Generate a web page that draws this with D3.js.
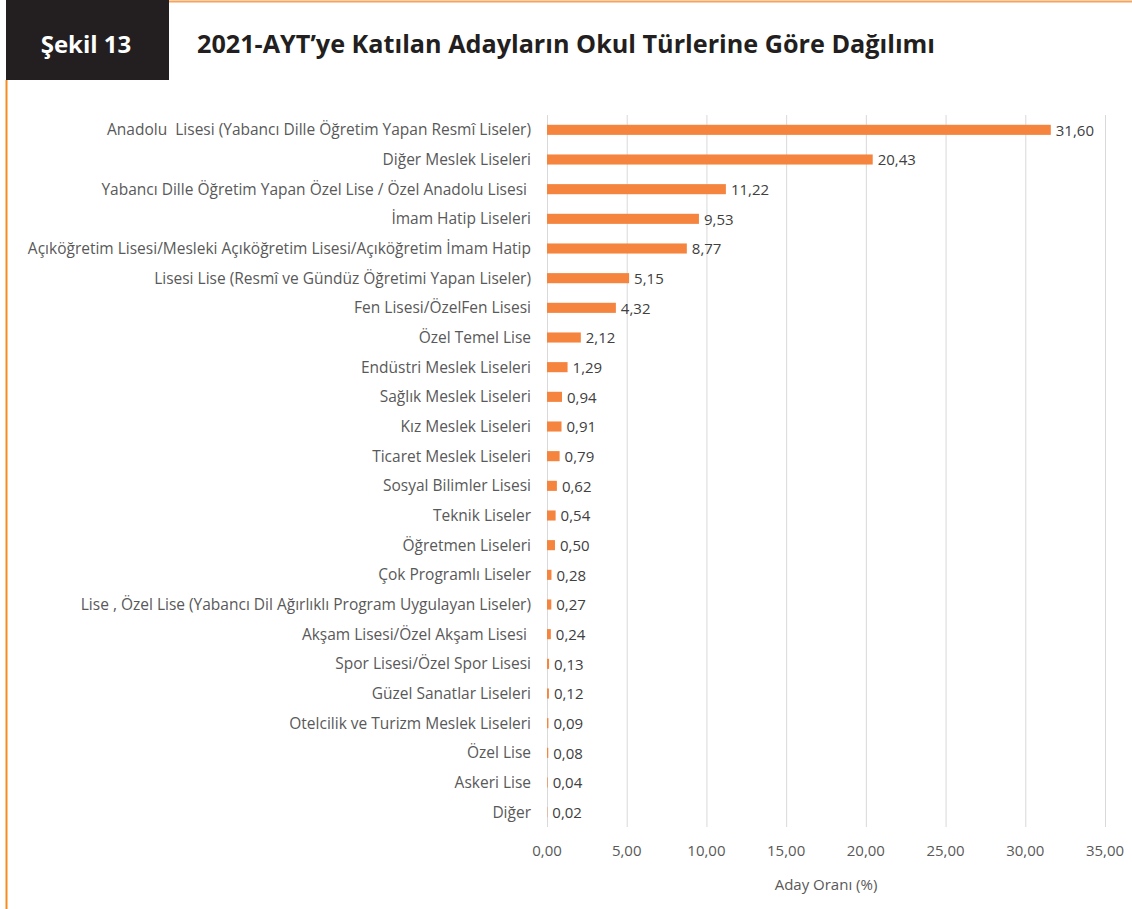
<!DOCTYPE html>
<html>
<head>
<meta charset="utf-8">
<script src="https://cdn.jsdelivr.net/npm/d3@7"></script>
<style>
  body { margin: 0; background: #fff; }
  svg { display: block; }
  text { white-space: pre; }
</style>
</head>
<body>
<svg></svg>
<script>
const width = 1132,
  height = 909

const categories = [
  "Anadolu  Lisesi (Yabancı Dille Öğretim Yapan Resmî Liseler)",
  "Diğer Meslek Liseleri",
  "Yabancı Dille Öğretim Yapan Özel Lise / Özel Anadolu Lisesi ",
  "İmam Hatip Liseleri",
  "Açıköğretim Lisesi/Mesleki Açıköğretim Lisesi/Açıköğretim İmam Hatip",
  "Lisesi Lise (Resmî ve Gündüz Öğretimi Yapan Liseler)",
  "Fen Lisesi/ÖzelFen Lisesi",
  "Özel Temel Lise",
  "Endüstri Meslek Liseleri",
  "Sağlık Meslek Liseleri",
  "Kız Meslek Liseleri",
  "Ticaret Meslek Liseleri",
  "Sosyal Bilimler Lisesi",
  "Teknik Liseler",
  "Öğretmen Liseleri",
  "Çok Programlı Liseler",
  "Lise , Özel Lise (Yabancı Dil Ağırlıklı Program Uygulayan Liseler)",
  "Akşam Lisesi/Özel Akşam Lisesi ",
  "Spor Lisesi/Özel Spor Lisesi",
  "Güzel Sanatlar Liseleri",
  "Otelcilik ve Turizm Meslek Liseleri",
  "Özel Lise",
  "Askeri Lise",
  "Diğer"
]
const values = [31.60, 20.43, 11.22, 9.53, 8.77, 5.15, 4.32, 2.12, 1.29, 0.94, 0.91, 0.79,
  0.62, 0.54, 0.50, 0.28, 0.27, 0.24, 0.13, 0.12, 0.09, 0.08, 0.04, 0.02]
const xTicks = [0, 5, 10, 15, 20, 25, 30, 35]

const figLabel = "Şekil 13"
const title = "2021-AYT’ye Katılan Adayların Okul Türlerine Göre Dağılımı"
const xTitle = "Aday Oranı (%)"

const data = categories.map((c, i) => ({ name: c, value: values[i] }))
const fmt = v => v.toFixed(2).replace(".", ",")

const svg = d3.select("svg").attr("width", width).attr("height", height)

// frame: orange rules + dark label box
svg.append("line")
  .attr("x1", 169).attr("x2", width).attr("y1", 1.5).attr("y2", 1.5)
  .attr("stroke", "#F7A35C").attr("stroke-width", 2)
svg.append("line")
  .attr("x1", 6.5).attr("x2", 6.5).attr("y1", 80).attr("y2", height)
  .attr("stroke", "#F68B1F").attr("stroke-width", 2)
svg.append("rect")
  .attr("x", 6).attr("y", 0).attr("width", 163).attr("height", 80)
  .attr("fill", "#231F20")
svg.append("text")
  .attr("x", 86).attr("y", 53)
  .attr("text-anchor", "middle")
  .attr("fill", "#fff")
  .style("font", "bold 24px 'Open Sans', sans-serif")
  .text(figLabel)
svg.append("text")
  .attr("x", 197).attr("y", 53)
  .attr("fill", "#231F20")
  .attr("textLength", 738)
  .attr("lengthAdjust", "spacingAndGlyphs")
  .style("font", "bold 25px 'Open Sans', sans-serif")
  .text(title)

// chart
const x = d3.scaleLinear().domain([0, 35]).range([547, 1105])
const y = d3.scaleBand()
  .domain(categories)
  .range([115, 827])
  .paddingInner(0.66)
  .paddingOuter(0.33)

const g = svg.append("g").style("font-family", "'Open Sans', sans-serif")

g.append("g")
  .selectAll("line")
  .data(xTicks)
  .join("line")
  .attr("x1", d => x(d) + 0.5)
  .attr("x2", d => x(d) + 0.5)
  .attr("y1", 115)
  .attr("y2", 827)
  .attr("stroke", "#D9D9D9")
  .attr("stroke-width", 1)

g.append("g")
  .selectAll("text")
  .data(xTicks)
  .join("text")
  .attr("x", d => x(d))
  .attr("y", 856)
  .attr("text-anchor", "middle")
  .attr("fill", "#595959")
  .style("font-size", "15px")
  .text(d => fmt(d))

g.append("text")
  .attr("x", (x(0) + x(35)) / 2)
  .attr("y", 890)
  .attr("text-anchor", "middle")
  .attr("fill", "#595959")
  .style("font-size", "15px")
  .text(xTitle)

g.append("g")
  .selectAll("rect")
  .data(data)
  .join("rect")
  .attr("x", x(0))
  .attr("y", d => y(d.name))
  .attr("width", d => x(d.value) - x(0))
  .attr("height", y.bandwidth())
  .attr("fill", "#F4843E")

g.append("g")
  .selectAll("text")
  .data(data)
  .join("text")
  .attr("x", 531)
  .attr("y", d => y(d.name) + y.bandwidth() / 2)
  .attr("dy", "0.35em")
  .attr("text-anchor", "end")
  .attr("fill", "#595959")
  .style("font-size", "15.5px")
  .text(d => d.name)

g.append("g")
  .selectAll("text")
  .data(data)
  .join("text")
  .attr("x", d => x(d.value) + 5)
  .attr("y", d => y(d.name) + y.bandwidth() / 2)
  .attr("dy", "0.38em")
  .attr("fill", "#404040")
  .style("font-size", "15px")
  .text(d => fmt(d.value))
</script>
</body>
</html>
